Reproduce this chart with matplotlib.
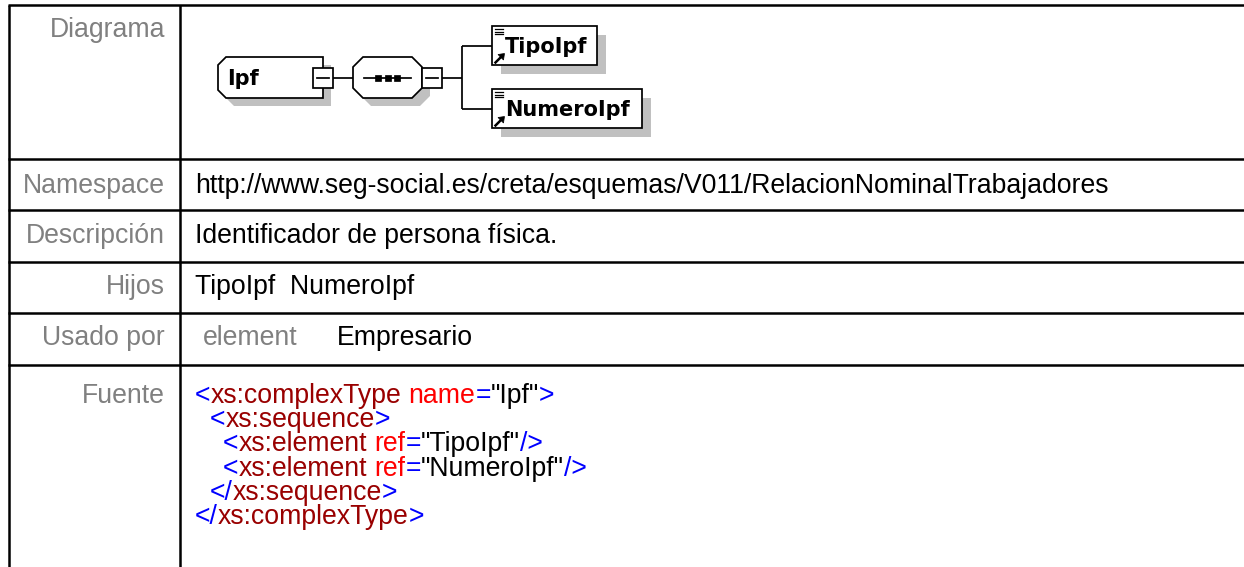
import matplotlib
matplotlib.use("Agg")
import matplotlib.pyplot as plt
from matplotlib.patches import Polygon, Rectangle

# --- contents of the documentation table ---
row_labels = ["Diagrama", "Namespace", "Descripción", "Hijos", "Usado por", "Fuente"]
namespace = "http://www.seg-social.es/creta/esquemas/V011/RelacionNominalTrabajadores"
descripcion = "Identificador de persona física."
hijos = ["TipoIpf", "NumeroIpf"]
usado_tipo = "element"
usado_nombre = "Empresario"
root_name = "Ipf"

# source listing: (text, colour key)
src_lines = [
    [("<", "b"), ("xs:complexType", "m"), (" name", "r"), ("=", "b"), ('"Ipf"', "k"), (">", "b")],
    [("<", "b"), ("xs:sequence", "m"), (">", "b")],
    [("<", "b"), ("xs:element", "m"), (" ref", "r"), ("=", "b"), ('"TipoIpf"', "k"), ("/>", "b")],
    [("<", "b"), ("xs:element", "m"), (" ref", "r"), ("=", "b"), ('"NumeroIpf"', "k"), ("/>", "b")],
    [("</", "b"), ("xs:sequence", "m"), (">", "b")],
    [("</", "b"), ("xs:complexType", "m"), (">", "b")],
]
src_colors = {"b": "#0000ff", "m": "#990000", "r": "#ff0000", "k": "#000000"}

W, H = 1244, 567
fig = plt.figure(figsize=(W / 100, H / 100), dpi=100)
ax = fig.add_axes([0, 0, 1, 1])
ax.set_xlim(0, W)
ax.set_ylim(H, 0)
ax.axis("off")

FONT = "Liberation Sans"
FS = 19.2
GREY = "#808080"

# table grid
row_lines = [159, 210, 262, 313, 365]
grid_lw = 1.8
ax.plot([8, W], [5, 5], color="k", lw=grid_lw, solid_capstyle="butt")
for y in row_lines:
    ax.plot([8, W], [y, y], color="k", lw=grid_lw, solid_capstyle="butt")
ax.plot([9, 9], [5, H], color="k", lw=grid_lw, solid_capstyle="butt")
ax.plot([180, 180], [5, H], color="k", lw=grid_lw, solid_capstyle="butt")

# labels column
label_base = [37, 193, 243, 294, 345, 403]
for lab, yb in zip(row_labels, label_base):
    ax.text(165, yb, lab, ha="right", va="baseline", color=GREY, family=FONT, fontsize=FS)

# value column
ax.text(195, label_base[1], namespace, va="baseline", family=FONT, fontsize=FS)
ax.text(195, label_base[2], descripcion, va="baseline", family=FONT, fontsize=FS)
ax.text(195, label_base[3], "  ".join(hijos), va="baseline", family=FONT, fontsize=FS)
ax.text(203, label_base[4], usado_tipo, va="baseline", color=GREY, family=FONT, fontsize=FS)
ax.text(337, label_base[4], usado_nombre, va="baseline", family=FONT, fontsize=FS)

# coloured source listing
renderer = fig.canvas.get_renderer()


def text_width(s):
    t = ax.text(0, 0, "|" + s + "|", family=FONT, fontsize=FS)
    w = t.get_window_extent(renderer).width
    t.remove()
    return w


bar_w = text_width("")
indents = [195, 210, 223, 223, 210, 195]
for i, (line, x0) in enumerate(zip(src_lines, indents)):
    yb = 403 + 24.2 * i
    x = x0
    for tok, c in line:
        lead = len(tok) - len(tok.lstrip(" "))
        xs = x + (text_width(" " * lead) - bar_w if lead else 0)
        ax.text(xs, yb, tok.lstrip(" "), va="baseline", color=src_colors[c],
                family=FONT, fontsize=FS)
        x += text_width(tok) - bar_w

# --- diagram ---
SH = "#c0c0c0"
DLW = 1.25
DF = "DejaVu Sans"
DFS = 15


def seg(x0, y0, x1, y1):
    ax.plot([x0, x1], [y0, y1], color="k", lw=DLW, solid_capstyle="butt")


def minus_box(x, y):
    ax.add_patch(Rectangle((x, y), 20, 20, facecolor="white", edgecolor="k", lw=DLW, zorder=4))
    ax.plot([x + 4, x + 16], [y + 10, y + 10], color="k", lw=DLW, zorder=5)


# root complex type box (chamfered left corners)
ipf = [(226, 57), (323, 57), (323, 98), (226, 98), (218, 90), (218, 65)]
ax.add_patch(Polygon([(px + 8, py + 8) for px, py in ipf], closed=True, facecolor=SH, edgecolor="none", zorder=2))
ax.add_patch(Polygon(ipf, closed=True, facecolor="white", edgecolor="k", lw=DLW, zorder=3))
ax.text(227, 85, root_name, family=DF, fontsize=DFS, fontweight="bold", va="baseline", zorder=5)
minus_box(313, 68)
seg(333, 78, 353, 78)

# sequence compositor
seq = [(363, 57), (412, 57), (422, 67), (422, 88), (412, 98), (363, 98), (353, 88), (353, 67)]
ax.add_patch(Polygon([(px + 8, py + 8) for px, py in seq], closed=True, facecolor=SH, edgecolor="none", zorder=2))
ax.add_patch(Polygon(seq, closed=True, facecolor="white", edgecolor="k", lw=DLW, zorder=3))
ax.plot([364, 411], [78, 78], color="k", lw=DLW, zorder=4)
for cx in [378, 387.5, 397]:
    ax.add_patch(Rectangle((cx - 3, 75), 6, 6, facecolor="k", edgecolor="k", lw=0.5, zorder=5))
minus_box(422, 68)
seg(442, 78, 462, 78)

# branches to children
child_tops = [26, 89]
child_rights = [597, 642]
seg(462, child_tops[0] + 20, 462, child_tops[1] + 20)
for name, top, right in zip(hijos, child_tops, child_rights):
    cy = top + 20
    seg(462, cy, 492, cy)
    ax.add_patch(Rectangle((501, top + 9), right - 492, 39, facecolor=SH, edgecolor="none", zorder=2))
    ax.add_patch(Rectangle((492, top), right - 492, 39, facecolor="white", edgecolor="k", lw=DLW, zorder=3))
    for dy in [3, 5.7, 8.4]:
        ax.plot([494.5, 502.5], [top + dy, top + dy], color="k", lw=0.9, zorder=4)
    ax.plot([495.5, 501], [top + 36.5, top + 31], color="k", lw=1.8, zorder=4)
    ax.add_patch(Polygon([(504.5, top + 27.5), (498, top + 28.5), (503.5, top + 34)], closed=True,
                         facecolor="k", edgecolor="k", lw=0.5, zorder=4))
    ax.text(505, top + 27, name, family=DF, fontsize=DFS, fontweight="bold", va="baseline", zorder=5)

fig.savefig("out.png", dpi=100)
